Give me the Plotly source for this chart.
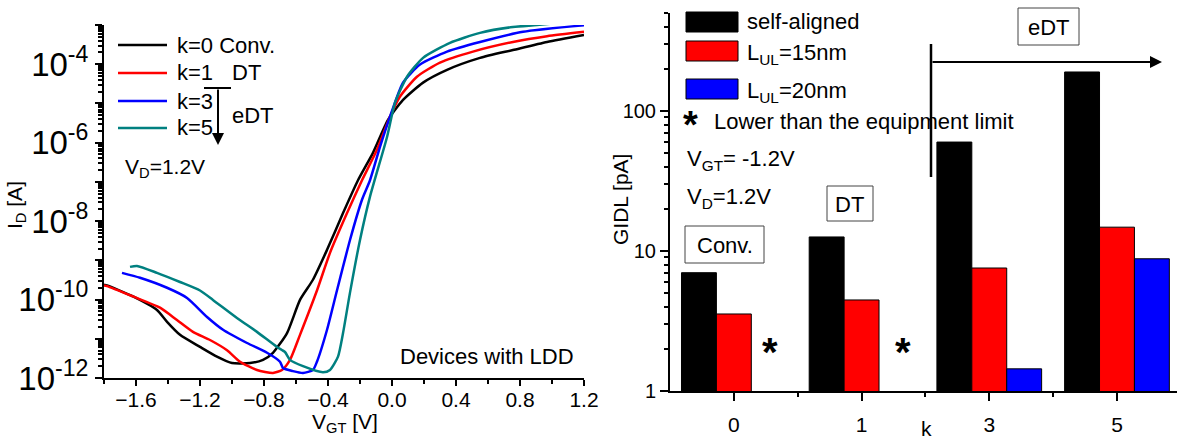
import plotly.graph_objects as go

# ---------------- data: transfer curves (left) ----------------
vgt_k0 = [-1.8, -1.781, -1.619, -1.469, -1.406, -1.325, -1.2, -1.094, -1.0, -0.8875, -0.806, -0.744, -0.656,
          -0.575, -0.494, -0.406, -0.306, -0.2125, -0.119, -0.025, 0.069, 0.194, 0.344, 0.55, 0.756, 0.969, 1.2]
id_k0 = [2.4e-10, 2.3e-10, 1.2e-10, 5.4e-11, 2.7e-11, 1.26e-11, 6.2e-12, 3.5e-12, 2.4e-12, 2.4e-12, 2.9e-12,
         4.4e-12, 1.4e-11, 9.8e-11, 3.2e-10, 1.85e-9, 1.6e-8, 1.1e-7, 5.5e-7, 3.8e-6, 1.23e-5, 3.4e-5,
         7.2e-5, 1.45e-4, 2.3e-4, 3.7e-4, 5.6e-4]

vgt_k1 = [-1.8, -1.781, -1.619, -1.45, -1.344, -1.244, -1.1375, -1.031, -0.95, -0.844, -0.744, -0.6875, -0.6375,
          -0.575, -0.469, -0.3875, -0.281, -0.1875, -0.094, -0.0125, 0.05, 0.156, 0.3, 0.506, 0.756, 0.969, 1.2]
id_k1 = [2.3e-10, 2.2e-10, 1.2e-10, 6.2e-11, 3.0e-11, 1.5e-11, 9.3e-12, 5.1e-12, 2.6e-12, 1.6e-12, 1.35e-12,
         1.6e-12, 2.9e-12, 1.26e-11, 1.7e-10, 1.55e-9, 1.6e-8, 1.1e-7, 6.6e-7, 4.6e-6, 1.5e-5, 4.8e-5,
         1.1e-4, 2.1e-4, 3.7e-4, 5.2e-4, 6.7e-4]

vgt_k3 = [-1.6875, -1.575, -1.406, -1.281, -1.156, -1.056, -0.906, -0.781, -0.70, -0.681, -0.619, -0.556,
          -0.494, -0.469, -0.406, -0.344, -0.2625, -0.1875, -0.1375, -0.075, -0.0125, 0.069, 0.175, 0.344,
          0.55, 0.819, 1.2]
id_k3 = [4.8e-10, 3.6e-10, 2.0e-10, 1.1e-10, 3.6e-11, 1.7e-11, 7.8e-12, 4.4e-12, 2.6e-12, 1.8e-12, 1.5e-12,
         1.35e-12, 1.6e-12, 2.6e-12, 1.7e-11, 1.7e-10, 3.3e-9, 3.5e-8, 1.1e-7, 7.8e-7, 4.6e-6, 3.4e-5,
         9.8e-5, 2.1e-4, 3.7e-4, 6.7e-4, 9.8e-4]

vgt_k5 = [-1.6375, -1.594, -1.469, -1.325, -1.2, -1.119, -0.969, -0.844, -0.719, -0.669, -0.6375, -0.556,
          -0.431, -0.3875, -0.3375, -0.306, -0.2625, -0.2, -0.1375, -0.031, 0.019, 0.094, 0.194, 0.3625,
          0.55, 0.756, 0.906, 1.2]
id_k5 = [6.8e-10, 7.2e-10, 4.8e-10, 2.8e-10, 1.7e-10, 9.8e-11, 3.4e-11, 1.5e-11, 6.2e-12, 4.6e-12, 2.9e-12,
         2.0e-12, 1.4e-12, 1.6e-12, 3.5e-12, 1.4e-11, 1.5e-10, 3.3e-9, 4.2e-8, 1.4e-6, 1.05e-5, 4.8e-5,
         1.45e-4, 3.5e-4, 6.3e-4, 8.9e-4, 1.0e-3, 1.3e-3]

curve_names = ["k=0 Conv.", "k=1", "k=3", "k=5"]
curve_colors = ["#000000", "#ff0000", "#0000ff", "#008080"]

# ---------------- data: GIDL bars (right) ----------------
k_labels = ["0", "1", "3", "5"]
gidl_self = [7.0, 12.6, 60.0, 190.0]
gidl_15 = [3.55, 4.47, 7.56, 14.8]
gidl_20 = [None, None, 1.44, 8.8]
bar_names = ["self-aligned", "L<sub>UL</sub>=15nm", "L<sub>UL</sub>=20nm"]
bar_colors = ["#000000", "#ff0000", "#0000ff"]

left_ytick_vals = [1e-12, 1e-11, 1e-10, 1e-9, 1e-8, 1e-7, 1e-6, 1e-5, 1e-4, 1e-3]
left_ytick_text = ["10<sup>-12</sup>", "", "10<sup>-10</sup>", "", "10<sup>-8</sup>", "",
                   "10<sup>-6</sup>", "", "10<sup>-4</sup>", ""]
right_ytick_vals = [1, 10, 100]
right_ytick_text = ["1", "10", "100"]

W, H = 1177, 439
FONT = "Arial, 'Liberation Sans', sans-serif"


def px(x):
    return x / W


def py(y):
    return 1 - y / H


fig = go.Figure()

for xs, ys, nm, col in zip([vgt_k0, vgt_k1, vgt_k3, vgt_k5], [id_k0, id_k1, id_k3, id_k5],
                           curve_names, curve_colors):
    fig.add_trace(go.Scatter(x=xs, y=ys, name=nm, mode="lines",
                             line=dict(color=col, width=2.5, shape="spline", smoothing=0.6),
                             xaxis="x", yaxis="y", showlegend=False))

x_pos = list(range(len(k_labels)))
for vals, nm, col in zip([gidl_self, gidl_15, gidl_20], bar_names, bar_colors):
    fig.add_trace(go.Bar(x=x_pos, y=vals, name=nm, marker=dict(color=col, line=dict(color="#000000", width=1)),
                         xaxis="x2", yaxis="y2", showlegend=False))

# minor ticks for log axes
left_minor = [m * 10.0 ** e for e in range(-12, -3) for m in range(2, 10)]
right_minor = [m * 10.0 ** e for e in range(0, 3) for m in range(2, 10) if m * 10.0 ** e < 510]

axis_common = dict(showgrid=False, zeroline=False, showline=True, linecolor="black", linewidth=2,
                   ticks="outside", tickcolor="black", tickwidth=2, mirror=False, automargin=False)

fig.update_layout(
    template="none",
    width=W, height=H, autosize=False,
    margin=dict(l=0, r=0, t=0, b=0, pad=0),
    paper_bgcolor="white", plot_bgcolor="white",
    font=dict(family=FONT, color="black", size=20),
    barmode="group", bargap=0.18, bargroupgap=0.0,
    xaxis=dict(domain=[px(104), px(584)], anchor="y", range=[-1.8, 1.2],
               tickmode="linear", tick0=-1.6, dtick=0.4, tickformat=".1f", ticklen=6,
               tickfont=dict(size=21), ticklabelstandoff=-4,
               minor=dict(dtick=0.2, tick0=-1.8, ticklen=4, tickwidth=1.5, ticks="outside", tickcolor="black"),
               **axis_common),
    yaxis=dict(domain=[py(378), py(25)], anchor="x", type="log", range=[-12, -3],
               tickmode="array", tickvals=left_ytick_vals, ticktext=left_ytick_text, ticklen=7,
               tickfont=dict(size=33),
               minor=dict(tickvals=left_minor, ticklen=4, tickwidth=1.5, ticks="outside", tickcolor="black"),
               **axis_common),
    xaxis2=dict(domain=[px(670), 1.0], anchor="y2", range=[-0.5, 3.47],
                tickmode="array", tickvals=x_pos, ticktext=k_labels, ticklen=8,
                tickfont=dict(size=21), ticklabelstandoff=6,
                minor=dict(tickvals=[0.5, 1.5, 2.5], ticklen=4, tickwidth=2, ticks="outside", tickcolor="black"),
                **axis_common),
    yaxis2=dict(domain=[py(391), py(13)], anchor="x2", type="log", range=[0, 2.7],
                tickmode="array", tickvals=right_ytick_vals, ticktext=right_ytick_text, ticklen=8,
                tickfont=dict(size=20),
                minor=dict(tickvals=right_minor, ticklen=4, tickwidth=2, ticks="outside", tickcolor="black"),
                **axis_common),
)

shapes = []
annotations = []


def text(x, y, s, size=22, xanchor="left", yanchor="middle", angle=0):
    annotations.append(dict(x=px(x), y=py(y), xref="paper", yref="paper", text=s, showarrow=False,
                            xanchor=xanchor, yanchor=yanchor, textangle=angle,
                            font=dict(size=size, family=FONT, color="black")))


# ----- left panel legend -----
leg_y = [45, 73, 101, 128]
for yy, nm, col in zip(leg_y, curve_names, curve_colors):
    shapes.append(dict(type="line", xref="paper", yref="paper", x0=px(118), x1=px(167), y0=py(yy), y1=py(yy),
                       line=dict(color=col, width=2.5)))
    text(175, yy, nm, size=22)
text(230, 72, "DT", size=22)
text(230, 115, "eDT", size=22)
shapes.append(dict(type="line", xref="paper", yref="paper", x0=px(204), x1=px(231), y0=py(88), y1=py(88),
                   line=dict(color="black", width=2)))
annotations.append(dict(x=px(218), y=py(145), xref="paper", yref="paper", ax=0, ay=-57, text="",
                        showarrow=True, arrowhead=2, arrowsize=1.2, arrowwidth=2, arrowcolor="black"))
text(123, 168, "V<sub>D</sub>=1.2V", size=21)
text(398, 356, "Devices with LDD", size=22)

# axis titles left
text(345, 423, "V<sub>GT</sub> [V]", size=21, xanchor="center")
text(16, 205, "I<sub>D</sub> [A]", size=21, xanchor="center", angle=-90)

# ----- right panel legend -----
box_y = [(12, 32), (41, 61), (79, 99)]
for (y0, y1), col in zip(box_y, bar_colors):
    shapes.append(dict(type="rect", xref="paper", yref="paper", x0=px(686), x1=px(738), y0=py(y1), y1=py(y0),
                       fillcolor=col, line=dict(color="black", width=1)))
text(745, 22, bar_names[0], size=22)
text(745, 54, bar_names[1], size=22)
text(745, 92, bar_names[2], size=22)
text(681, 125, "<b>*</b>", size=38)
text(712, 122, "Lower than the equipment limit", size=22)
text(685, 160, "V<sub>GT</sub>= -1.2V", size=22)
text(685, 198, "V<sub>D</sub>=1.2V", size=22)

# boxed labels
for (x0, y0, x1, y1, s) in [(827, 186, 873, 221, "DT"), (685, 226, 764, 263, "Conv."), (1018, 8, 1079, 45, "eDT")]:
    shapes.append(dict(type="rect", xref="paper", yref="paper", x0=px(x0), x1=px(x1), y0=py(y1), y1=py(y0),
                       line=dict(color="#444444", width=1)))
    text((x0 + x1) / 2, (y0 + y1) / 2 + 1, s, size=22, xanchor="center")

# stars (below equipment limit)
text(770, 352, "<b>*</b>", size=40, xanchor="center")
text(903, 352, "<b>*</b>", size=40, xanchor="center")

# eDT arrow
shapes.append(dict(type="line", xref="paper", yref="paper", x0=px(931), x1=px(931), y0=py(44), y1=py(177),
                   line=dict(color="black", width=2.5)))
annotations.append(dict(x=px(1162), y=py(62), xref="paper", yref="paper", ax=-231, ay=0, text="",
                        showarrow=True, arrowhead=2, arrowsize=1.2, arrowwidth=2, arrowcolor="black"))

# axis titles right
text(926, 428, "k", size=21, xanchor="center")
text(620, 200, "GIDL [pA]", size=21, xanchor="center", angle=-90)

fig.update_layout(shapes=shapes, annotations=annotations)
fig.write_html("out.html")
